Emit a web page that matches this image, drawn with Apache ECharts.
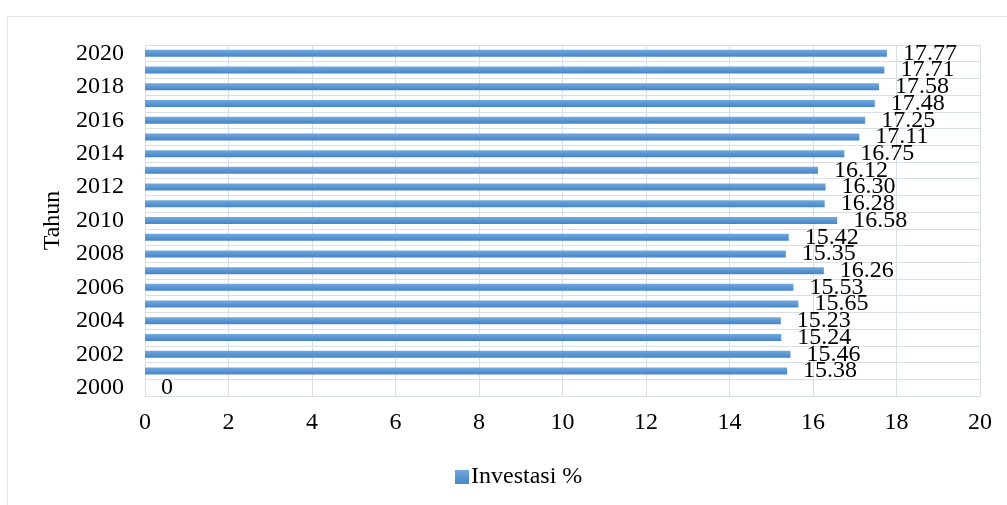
<!DOCTYPE html>
<html>
<head>
<meta charset="utf-8">
<script src="https://cdn.jsdelivr.net/npm/echarts@6/dist/echarts.min.js"></script>
<style>
  html, body { margin: 0; padding: 0; background: #fff; }
  #chart { width: 1007px; height: 505px; }
</style>
</head>
<body>
<div id="chart"></div>
<script>
// data
const years = ['2000', '2001', '2002', '2003', '2004', '2005', '2006', '2007', '2008', '2009', '2010',
  '2011', '2012', '2013', '2014', '2015', '2016', '2017', '2018', '2019', '2020'];
const investasi = [0, 15.38, 15.46, 15.24, 15.23, 15.65, 15.53, 16.26, 15.35, 15.42, 16.58,
  16.28, 16.30, 16.12, 16.75, 17.11, 17.25, 17.48, 17.58, 17.71, 17.77];
const xTicks = { min: 0, max: 20, step: 2 };

const serif = 'Liberation Serif, Times New Roman, serif';
const gridColor = '#dadee5';
const fs = 24;

let myChart = echarts.init(document.getElementById('chart'));

const option = {
  animation: false,
  backgroundColor: '#fff',
  graphic: [{
    type: 'rect',
    z: -1,
    shape: { x: 7.5, y: 16.5, width: 1200, height: 600 },
    style: { fill: 'none', stroke: '#e2e5ea', lineWidth: 1 }
  }],
  grid: { left: 145, right: 27, top: 45, bottom: 109 },
  legend: {
    left: 450,
    top: 460,
    icon: 'rect',
    itemWidth: 14,
    itemHeight: 14,
    itemGap: 5,
    textStyle: { fontFamily: serif, fontSize: fs, color: '#000', padding: [0, 0, 0, -3] },
    data: ['Investasi %']
  },
  xAxis: {
    type: 'value',
    min: xTicks.min,
    max: xTicks.max,
    interval: xTicks.step,
    axisLine: { show: false },
    axisTick: { show: false },
    axisLabel: { fontFamily: serif, fontSize: fs, color: '#000', margin: 15 },
    splitLine: { show: true, lineStyle: { color: gridColor, width: 1 } }
  },
  yAxis: {
    type: 'category',
    data: years,
    name: 'Tahun',
    nameLocation: 'middle',
    nameRotate: 90,
    nameGap: 75,
    nameTextStyle: { fontFamily: serif, fontSize: fs, color: '#000' },
    axisLine: { show: true, lineStyle: { color: gridColor } },
    axisTick: { show: false },
    axisLabel: { interval: 1, fontFamily: serif, fontSize: fs, color: '#000', margin: 21 },
    splitLine: { show: true, interval: 0, lineStyle: { color: gridColor, width: 1 } }
  },
  series: [{
    name: 'Investasi %',
    type: 'bar',
    data: investasi,
    barWidth: 7,
    itemStyle: {
      color: new echarts.graphic.LinearGradient(0, 0, 0, 1, [
        { offset: 0, color: '#72a8de' },
        { offset: 1, color: '#4585c9' }
      ])
    },
    label: {
      show: true,
      position: 'right',
      distance: 16,
      fontFamily: serif,
      fontSize: fs,
      color: '#000',
      formatter: function (p) {
        return p.value === 0 ? '0' : p.value.toFixed(2);
      }
    }
  }]
};

myChart.setOption(option);
</script>
</body>
</html>
